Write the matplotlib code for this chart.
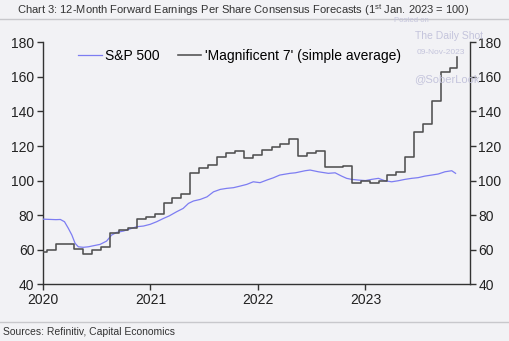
import matplotlib
matplotlib.use("Agg")
import matplotlib.pyplot as plt
import matplotlib.dates as mdates
import pandas as pd

plt.rcParams["font.family"] = ["Liberation Sans", "DejaVu Sans"]
plt.rcParams["mathtext.fontset"] = "custom"
plt.rcParams["mathtext.rm"] = "Liberation Sans"
plt.rcParams["mathtext.it"] = "Liberation Sans"

# 'Magnificent 7' simple average: monthly consensus updates (step series)
mag7_dates = list(pd.date_range("2019-12-01", "2023-10-01", freq="MS") + pd.Timedelta(days=15)) + [pd.Timestamp("2023-11-08")]
mag7_values = [
    58.4,
    59.7, 63.2, 63.2, 60.6, 57.7, 59.8, 61.4, 69.7, 71.2, 72.8, 77.5, 78.9,
    80.8, 87.1, 90.0, 92.0, 104.2, 107.5, 109.0, 113.8, 116.0, 117.1, 113.3, 114.7,
    117.5, 119.5, 121.3, 123.8, 114.5, 116.0, 117.0, 107.6, 107.6, 108.6, 98.4, 100.0,
    98.8, 99.9, 103.2, 105.0, 113.5, 128.0, 132.6, 146.1, 162.7, 165.2,
    171.3,
]

# S&P 500 forward EPS
spx_dates = pd.to_datetime([
    "2020-01-01", "2020-02-15", "2020-03-01", "2020-03-15", "2020-03-28", "2020-04-09",
    "2020-04-20", "2020-05-01", "2020-05-18", "2020-06-04", "2020-06-21", "2020-07-14",
    "2020-08-05", "2020-08-22", "2020-09-08", "2020-10-01", "2020-10-23", "2020-11-15",
    "2020-12-08", "2020-12-31", "2021-01-22", "2021-02-14", "2021-03-06", "2021-03-31",
    "2021-04-22", "2021-05-10", "2021-05-27", "2021-06-19", "2021-07-12", "2021-08-03",
    "2021-08-26", "2021-09-17", "2021-10-10", "2021-11-01", "2021-11-24", "2021-12-16",
    "2022-01-08", "2022-01-31", "2022-02-22", "2022-03-16", "2022-04-20", "2022-05-08",
    "2022-06-10", "2022-06-27", "2022-07-25", "2022-08-28", "2022-09-20", "2022-10-12",
    "2022-10-29", "2022-11-15", "2022-12-08", "2023-01-01", "2023-01-22", "2023-02-14",
    "2023-03-08", "2023-03-31", "2023-04-22", "2023-05-15", "2023-06-07", "2023-06-29",
    "2023-07-22", "2023-08-14", "2023-09-05", "2023-09-28", "2023-10-21", "2023-11-03",
])
spx_values = [
    77.7, 77.4, 77.5, 76.2, 72.4, 68.5,
    63.7, 61.7, 61.4, 61.7, 62.3, 63.1,
    65.0, 68.5, 70.0, 70.8, 72.0, 73.3,
    73.7, 74.7, 76.2, 78.1, 79.6, 82.0,
    83.9, 86.8, 88.2, 89.1, 90.6, 93.5,
    94.9, 95.5, 95.9, 96.8, 97.8, 99.3,
    98.8, 100.3, 101.6, 103.2, 104.2, 104.5,
    105.7, 106.1, 105.1, 104.2, 104.5, 102.6,
    101.3, 100.7, 100.3, 100.0, 100.7, 101.3,
    99.9, 99.3, 99.9, 100.7, 101.3, 101.7,
    102.6, 103.2, 103.8, 105.1, 105.7, 104.2,
]

year_ticks = pd.to_datetime(["2020-01-01", "2021-01-01", "2022-01-01", "2023-01-01"])
year_labels = ["2020", "2021", "2022", "2023"]
y_ticks = [40, 60, 80, 100, 120, 140, 160, 180]

BG = "#f2f2f5"
AXC = "#333333"

fig = plt.figure(figsize=(5.09, 3.41), dpi=100, facecolor=BG)
ax = fig.add_axes([42.7 / 509, 1 - 284.3 / 341, (470 - 42.7) / 509, (284.3 - 42.3) / 341])
ax.set_facecolor(BG)

ax.plot(spx_dates, spx_values, color="#7d7df2", lw=0.9, label="S&P 500", zorder=3)
ax.step(mag7_dates, mag7_values, where="post", color="#505050", lw=1.15,
        label="'Magnificent 7' (simple average)", zorder=4)

ax.set_xlim(pd.Timestamp("2020-01-01"), pd.Timestamp("2023-12-22"))
ax.set_ylim(40, 180)
ax.set_xticks(year_ticks)
ax.set_xticklabels(year_labels)
ax.set_yticks(y_ticks)

for side in ("left", "right", "bottom"):
    ax.spines[side].set_color(AXC)
    ax.spines[side].set_linewidth(1.0)
ax.spines["top"].set_visible(False)

ax.tick_params(axis="y", which="both", left=True, right=True, labelleft=True, labelright=True,
               direction="out", length=4, width=1.0, color=AXC, labelsize=10, labelcolor="#222222", pad=2)
ax.tick_params(axis="x", direction="out", length=4, width=1.0, color=AXC, labelsize=10,
               labelcolor="#222222", pad=2)

leg = ax.legend(loc="center left", bbox_to_anchor=((78 - 42.7) / 427.3, (284.3 - 56) / 242),
                ncol=2, frameon=False, fontsize=10, handlelength=1.7, handletextpad=0.25,
                columnspacing=1.3, borderpad=0, borderaxespad=0)

# header and footer
fig.text(17 / 509, 1 - 10 / 341, "Chart 3: 12-Month Forward Earnings Per Share Consensus Forecasts (1$^{\\rm st}$ Jan. 2023 = 100)",
         ha="left", va="center", fontsize=8, color="#333333")
fig.add_artist(plt.Line2D([0, 1], [1 - 19 / 341, 1 - 19 / 341], transform=fig.transFigure,
                          color="#c8c8cc", lw=1.0))
fig.add_artist(plt.Line2D([0, 1], [1 - 322 / 341, 1 - 322 / 341], transform=fig.transFigure,
                          color="#c8c8cc", lw=1.0))
fig.text(3 / 509, 1 - 332 / 341, "Sources: Refinitiv, Capital Economics", ha="left", va="center",
         fontsize=7.5, color="#333333")

# watermark
WM = "#c4c4dc"
fig.text(411 / 509, 1 - 20 / 341, "Posted on", ha="center", va="center", fontsize=5.5, color=WM)
fig.text(449 / 509, 1 - 36 / 341, "The Daily Shot", ha="center", va="center", fontsize=7.5, color=WM)
fig.text(441 / 509, 1 - 52 / 341, "09-Nov-2023", ha="center", va="center", fontsize=6, color=WM)
fig.text(447 / 509, 1 - 79 / 341, "@SoberLook", ha="center", va="center", fontsize=8, color=WM)

fig.savefig("out.png", dpi=100, facecolor=BG)
